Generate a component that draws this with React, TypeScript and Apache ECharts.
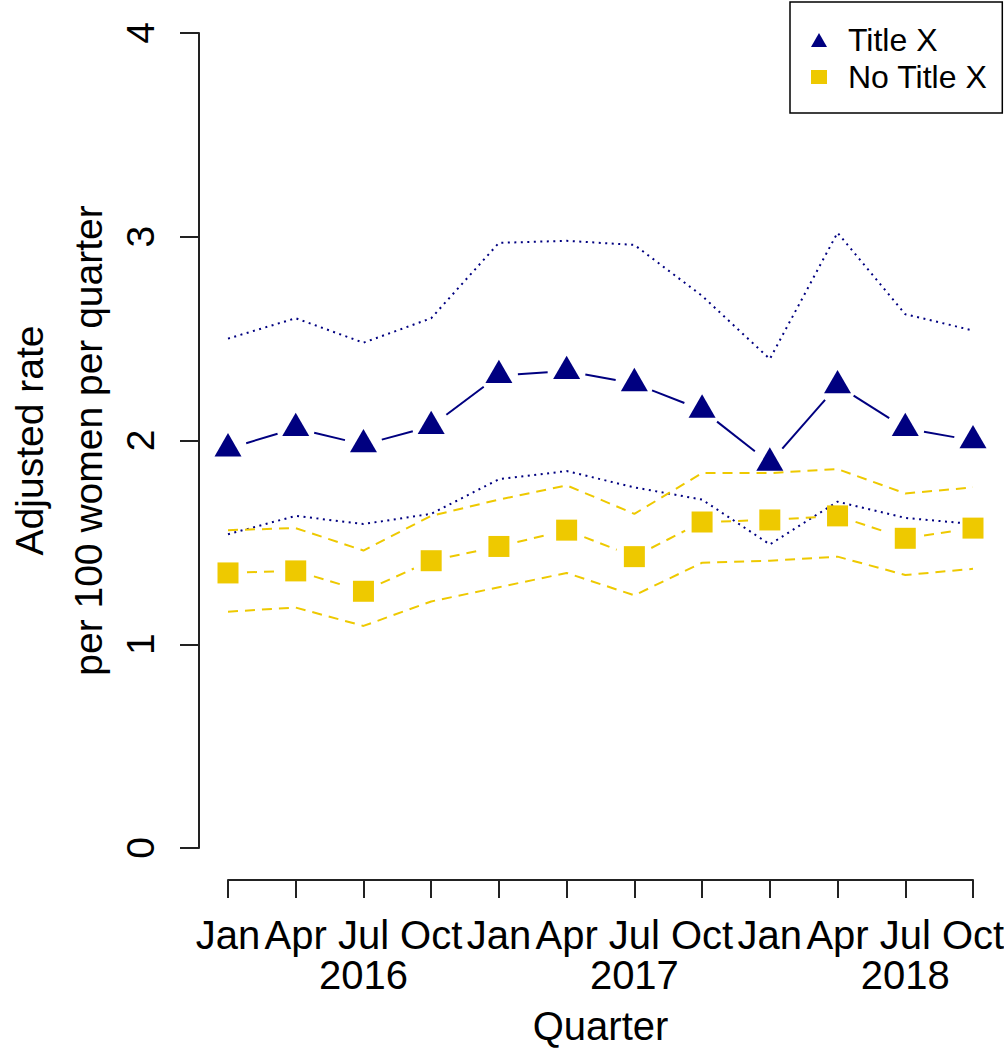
import React, { useEffect, useRef } from "react";
import * as echarts from "echarts";

const quarters = ["Jan", "Apr", "Jul", "Oct", "Jan", "Apr", "Jul", "Oct", "Jan", "Apr", "Jul", "Oct"];
const years = ["2016", "2017", "2018"];
const yTicks = [0, 1, 2, 3, 4];

const titleX = [1.96, 2.06, 1.98, 2.07, 2.32, 2.34, 2.28, 2.15, 1.89, 2.27, 2.06, 2.0];
const titleXUpper = [2.5, 2.6, 2.48, 2.6, 2.97, 2.98, 2.96, 2.71, 2.4, 3.02, 2.62, 2.54];
const titleXLower = [1.54, 1.63, 1.59, 1.64, 1.81, 1.85, 1.77, 1.71, 1.49, 1.7, 1.62, 1.59];
const noTitleX = [1.35, 1.36, 1.26, 1.41, 1.48, 1.56, 1.43, 1.6, 1.61, 1.63, 1.52, 1.57];
const noTitleXUpper = [1.56, 1.57, 1.46, 1.63, 1.71, 1.78, 1.64, 1.84, 1.84, 1.86, 1.74, 1.77];
const noTitleXLower = [1.16, 1.18, 1.09, 1.21, 1.28, 1.35, 1.24, 1.4, 1.41, 1.43, 1.34, 1.37];

const NAVY = "#000080";
const GOLD = "#EEC900";
const FONT = "'Liberation Sans', Arial, sans-serif";

function segments(vals: number[]) {
  const out: number[][] = [];
  for (let i = 0; i < vals.length - 1; i++) out.push([i, vals[i], vals[i + 1]]);
  return out;
}

function gapLine(name: string, vals: number[], color: string, dash: number[] | null) {
  return {
    type: "custom",
    name,
    coordinateSystem: "cartesian2d",
    data: segments(vals),
    encode: { x: 0, y: [1, 2] },
    silent: true,
    z: 3,
    renderItem: (params: any, api: any) => {
      const i = api.value(0);
      const p1 = api.coord([i, api.value(1)]);
      const p2 = api.coord([i + 1, api.value(2)]);
      const dx = p2[0] - p1[0];
      const dy = p2[1] - p1[1];
      const len = Math.hypot(dx, dy);
      const g = 19;
      if (len <= 2 * g) return null;
      const ux = dx / len;
      const uy = dy / len;
      return {
        type: "line",
        shape: { x1: p1[0] + ux * g, y1: p1[1] + uy * g, x2: p2[0] - ux * g, y2: p2[1] - uy * g },
        style: { stroke: color, lineWidth: 2, lineDash: dash || undefined, fill: null },
      };
    },
  };
}

function ciLine(vals: number[], color: string, dash: number[]) {
  return {
    type: "line",
    data: vals,
    showSymbol: false,
    symbol: "none",
    silent: true,
    z: 2,
    lineStyle: { color, width: 2, type: dash },
  };
}

export default function App() {
  const ref = useRef<HTMLDivElement>(null);
  useEffect(() => {
    if (!ref.current) return;
    const chart = echarts.init(ref.current, null, { renderer: "svg" });
    chart.setOption({
      animation: false,
      backgroundColor: "#ffffff",
      textStyle: { fontFamily: FONT },
      grid: { left: 228, right: 31, top: 33, bottom: 202, containLabel: false, outerBoundsMode: "none" },
      legend: {
        left: 790,
        top: 2,
        orient: "vertical",
        padding: [22, 15, 20, 21],
        itemGap: 5,
        itemWidth: 16,
        itemHeight: 14,
        borderColor: "#000",
        borderWidth: 1.5,
        borderRadius: 0,
        textStyle: { fontSize: 32, lineHeight: 32, color: "#000", fontFamily: FONT, padding: [0, 0, 0, 16] },
        data: [
          { name: "Title X", icon: "triangle" },
          { name: "No Title X", icon: "rect" },
        ],
      },
      xAxis: {
        type: "category",
        data: quarters,
        boundaryGap: false,
        offset: 32,
        name: "Quarter",
        nameLocation: "middle",
        nameGap: 127,
        nameTextStyle: { fontSize: 40, color: "#000", fontFamily: FONT, lineHeight: 38 },
        axisLine: { show: true, onZero: false, lineStyle: { color: "#222", width: 2 } },
        axisTick: { show: true, length: 18, alignWithLabel: true, lineStyle: { color: "#222", width: 2 } },
        axisLabel: {
          interval: 0,
          margin: 35,
          fontSize: 40,
          lineHeight: 40,
          color: "#000",
          fontFamily: FONT,
          verticalAlign: "top",
          formatter: (v: string, i: number) => (i % 4 === 2 ? v + "\n" + years[Math.floor(i / 4)] : v),
        },
        splitLine: { show: false },
      },
      yAxis: {
        type: "value",
        min: yTicks[0],
        max: yTicks[yTicks.length - 1],
        interval: 1,
        offset: 29,
        name: "{a|Adjusted rate}\n{b|per 100 women per quarter}",
        nameLocation: "middle",
        nameGap: 72,
        nameTextStyle: {
          fontSize: 39,
          color: "#000",
          fontFamily: FONT,
          rich: {
            a: { fontSize: 39, lineHeight: 39, color: "#000", fontFamily: FONT },
            b: { fontSize: 39, lineHeight: 78, color: "#000", fontFamily: FONT },
          },
        },
        axisLine: { show: true, onZero: false, lineStyle: { color: "#222", width: 2 } },
        axisTick: { show: true, length: 19, lineStyle: { color: "#222", width: 2 } },
        axisLabel: { rotate: 90, margin: 44, fontSize: 39, lineHeight: 30, color: "#000", fontFamily: FONT },
        splitLine: { show: false },
      },
      series: [
        ciLine(titleXUpper, NAVY, [2, 4.5]),
        ciLine(titleXLower, NAVY, [2, 4.5]),
        ciLine(noTitleXUpper, GOLD, [10, 7]),
        ciLine(noTitleXLower, GOLD, [10, 7]),
        gapLine("Title X line", titleX, NAVY, null),
        gapLine("No Title X line", noTitleX, GOLD, [10, 7]),
        {
          type: "scatter",
          name: "Title X",
          data: titleX,
          symbol: "triangle",
          symbolSize: [27, 23.4],
          symbolOffset: [0, -3.9],
          itemStyle: { color: NAVY, opacity: 1 },
          z: 5,
        },
        {
          type: "scatter",
          name: "No Title X",
          data: noTitleX,
          symbol: "rect",
          symbolSize: 21,
          itemStyle: { color: GOLD, opacity: 1 },
          z: 5,
        },
      ],
    });
    return () => chart.dispose();
  }, []);
  return (
    <div
      ref={ref}
      style={{ position: "absolute", left: 0, top: 0, width: 1004, height: 1050 }}
    />
  );
}
